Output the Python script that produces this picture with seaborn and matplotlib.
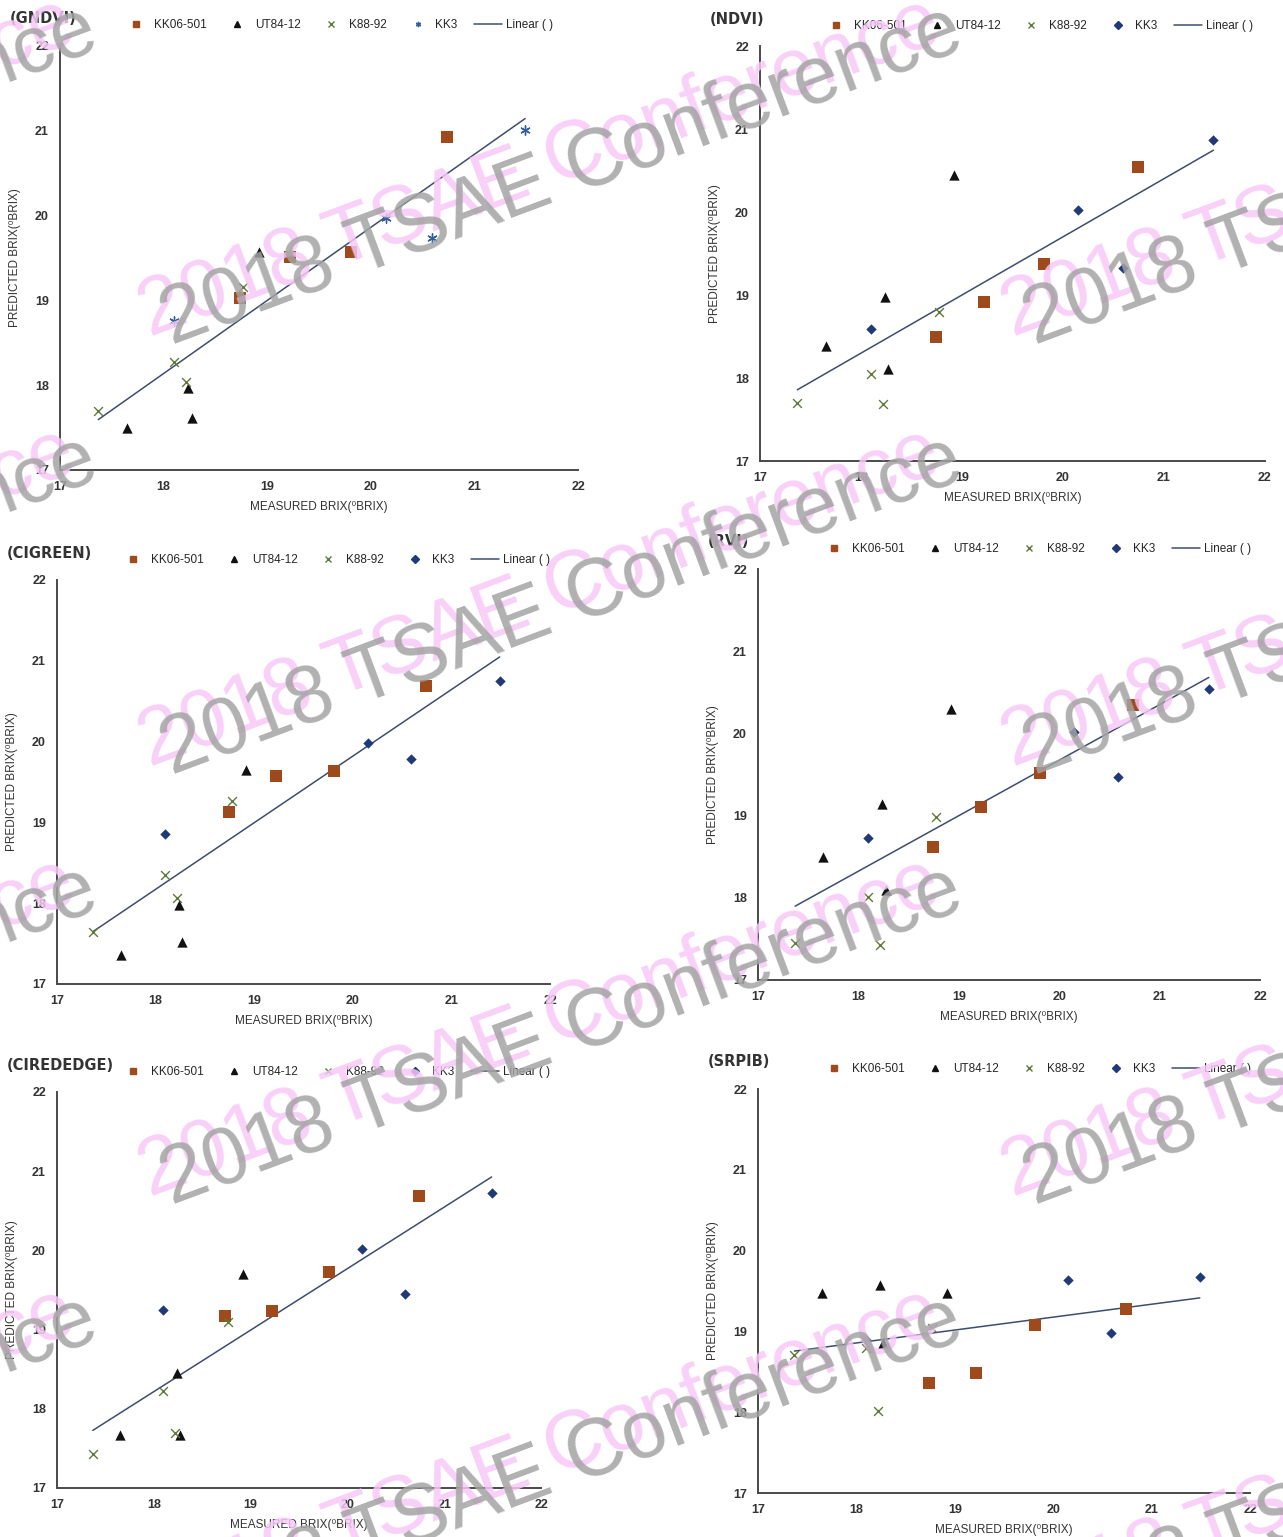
import matplotlib

matplotlib.use("Agg")
import matplotlib.pyplot as plt
import matplotlib.transforms as mtransforms
import pandas as pd
import seaborn as sns
from matplotlib.lines import Line2D


# measured brix is the same for every index panel
VARIETIES = ["KK06-501", "UT84-12", "K88-92", "KK3"]
MEASURED_KK06 = [18.74, 19.22, 19.81, 20.74]
MEASURED_UT84 = [17.65, 18.24, 18.27, 18.92]
MEASURED_K88 = [17.37, 18.10, 18.22, 18.77]
MEASURED_KK3 = [18.10, 20.15, 20.59, 21.49]

PANELS = ["(GNDVI)", "(NDVI)", "(CIGREEN)", "(RVI)", "(CIREDEDGE)", "(SRPIB)"]

# predicted brix, per panel, per variety
GNDVI_KK06 = [19.02, 19.51, 19.57, 20.92]
GNDVI_UT84 = [17.49, 17.96, 17.61, 19.57]
GNDVI_K88 = [17.70, 18.27, 18.03, 19.15]
GNDVI_KK3 = [18.75, 19.96, 19.73, 21.00]

NDVI_KK06 = [18.49, 18.92, 19.37, 20.54]
NDVI_UT84 = [18.39, 18.97, 18.11, 20.44]
NDVI_K88 = [17.70, 18.05, 17.69, 18.80]
NDVI_KK3 = [18.59, 20.02, 19.32, 20.87]

CIGREEN_KK06 = [19.13, 19.58, 19.64, 20.69]
CIGREEN_UT84 = [17.36, 17.98, 17.52, 19.65]
CIGREEN_K88 = [17.64, 18.35, 18.07, 19.26]
CIGREEN_KK3 = [18.86, 19.98, 19.79, 20.75]

RVI_KK06 = [18.62, 19.10, 19.52, 20.35]
RVI_UT84 = [18.50, 19.14, 18.09, 20.30]
RVI_K88 = [17.45, 18.01, 17.42, 18.98]
RVI_KK3 = [18.73, 20.02, 19.47, 20.54]

CIREDEDGE_KK06 = [19.17, 19.23, 19.73, 20.69]
CIREDEDGE_UT84 = [17.67, 18.45, 17.67, 19.70]
CIREDEDGE_K88 = [17.43, 18.22, 17.69, 19.10]
CIREDEDGE_KK3 = [19.25, 20.02, 19.45, 20.72]

SRPIB_KK06 = [18.36, 18.49, 19.08, 19.28]
SRPIB_UT84 = [19.48, 19.57, 18.86, 19.47]
SRPIB_K88 = [18.71, 18.79, 18.02, 19.04]
SRPIB_KK3 = [18.89, 19.64, 18.98, 19.67]

TICKS = [17, 18, 19, 20, 21, 22]
WATERMARK = "2018 TSAE Conference"

W, H = 1283, 1537

# axes rects in pixels: left, top, right, bottom
AXES_PX = [
    (60, 45, 578, 470),
    (760, 46, 1265, 461),
    (57, 580, 550, 984),
    (758, 569, 1260, 980),
    (57, 1092, 541, 1488),
    (758, 1089, 1250, 1493),
]

COLORS = {"KK06-501": "#9E4A1C", "UT84-12": "#111111", "K88-92": "#5E7A3A", "KK3": "#1F3A78"}
MARKERS = {"KK06-501": "s", "UT84-12": "^", "K88-92": "x", "KK3": "D"}
SIZES = {"KK06-501": 70, "UT84-12": 55, "K88-92": 40, "KK3": 28}
LEG_SIZES = {"KK06-501": 5, "UT84-12": 5, "K88-92": 5, "KK3": 3.8}
LINE_COLOR = "#3E4D6E"


def build_frame(kk06, ut84, k88, kk3):
    measured = [MEASURED_KK06, MEASURED_UT84, MEASURED_K88, MEASURED_KK3]
    predicted = [kk06, ut84, k88, kk3]
    rows = []
    for name, xs, ys in zip(VARIETIES, measured, predicted):
        for x, y in zip(xs, ys):
            rows.append({"variety": name, "measured": x, "predicted": y})
    return pd.DataFrame(rows)


frames = [
    build_frame(GNDVI_KK06, GNDVI_UT84, GNDVI_K88, GNDVI_KK3),
    build_frame(NDVI_KK06, NDVI_UT84, NDVI_K88, NDVI_KK3),
    build_frame(CIGREEN_KK06, CIGREEN_UT84, CIGREEN_K88, CIGREEN_KK3),
    build_frame(RVI_KK06, RVI_UT84, RVI_K88, RVI_KK3),
    build_frame(CIREDEDGE_KK06, CIREDEDGE_UT84, CIREDEDGE_K88, CIREDEDGE_KK3),
    build_frame(SRPIB_KK06, SRPIB_UT84, SRPIB_K88, SRPIB_KK3),
]

sns.set_theme(style="white")
plt.rcParams["font.family"] = ["Liberation Sans", "DejaVu Sans"]

fig = plt.figure(figsize=(W / 100, H / 100), dpi=100)

for i, (df, title, (l, t, r, b)) in enumerate(zip(frames, PANELS, AXES_PX)):
    ax = fig.add_axes([l / W, 1 - b / H, (r - l) / W, (b - t) / H])

    for name in VARIETIES:
        sub = df[df["variety"] == name]
        marker = MARKERS[name]
        size = SIZES[name]
        color = COLORS[name]
        if name == "KK3" and i == 0:
            marker, size, color = (6, 2, 0), 45, "#2F5F9E"
        kws = {"linewidth": 1.0} if marker in ("x", (6, 2, 0)) else {"linewidth": 0}
        sns.scatterplot(data=sub, x="measured", y="predicted", marker=marker, s=size,
                        color=color, ax=ax, legend=False, zorder=3, **kws)

    sns.regplot(data=df, x="measured", y="predicted", scatter=False, ci=None, ax=ax,
                line_kws={"color": LINE_COLOR, "linewidth": 1.1, "zorder": 2})

    ax.set_xlim(17, 22)
    ax.set_ylim(17, 22)
    ax.set_xticks(TICKS)
    ax.set_yticks(TICKS)
    ax.tick_params(length=0, labelsize=9, colors="#333333", pad=8)
    for lab in ax.get_xticklabels() + ax.get_yticklabels():
        lab.set_fontweight("bold")
    ax.set_xlabel("MEASURED BRIX(\u2070BRIX)", fontsize=8.5, color="#333333", labelpad=6)
    ax.set_ylabel("PREDICTED BRIX(\u2070BRIX)", fontsize=8.5, color="#333333", labelpad=10)
    sns.despine(ax=ax)
    for side in ("left", "bottom"):
        ax.spines[side].set_color("#4a4a4a")
        ax.spines[side].set_linewidth(1.4)

    title_tr = mtransforms.offset_copy(ax.transAxes, fig=fig, x=-50, y=27, units="dots")
    ax.text(0, 1, title, transform=title_tr, fontsize=10.5, fontweight="bold",
            color="#333333", ha="left", va="center", family="DejaVu Sans")

    handles = []
    for name in VARIETIES:
        marker = MARKERS[name]
        color = COLORS[name]
        if name == "KK3" and i == 0:
            marker, color = (6, 2, 0), "#2F5F9E"
        handles.append(Line2D([], [], linestyle="none", marker=marker, color=color,
                              markersize=LEG_SIZES[name], markeredgewidth=1.0, label=name))
    handles.append(Line2D([], [], color=LINE_COLOR, linewidth=1.1, label="Linear ( )"))
    leg_tr = mtransforms.offset_copy(ax.transAxes, fig=fig, x=62, y=20, units="dots")
    ax.legend(handles=handles, loc="center left", bbox_to_anchor=(0, 1), bbox_transform=leg_tr,
              ncol=5, frameon=False, fontsize=8.5, handlelength=2.4, handletextpad=0.3,
              columnspacing=1.4, borderpad=0, borderaxespad=0)

# watermark tiles
for row_y in (345, 775, 1205, 1635):
    for col_x in (172 - 865, 172, 1035):
        fig.text((col_x - 22) / W, 1 - (row_y - 8) / H, WATERMARK, rotation=20.5,
                 rotation_mode="anchor", ha="left", va="baseline", fontsize=58,
                 color="#F7C8F7", alpha=0.85, family="Liberation Sans", zorder=10)
        fig.text(col_x / W, 1 - row_y / H, WATERMARK, rotation=20.5,
                 rotation_mode="anchor", ha="left", va="baseline", fontsize=58,
                 color="#A3A3A3", alpha=0.85, family="Liberation Sans", zorder=11)

fig.savefig("out.png", dpi=100)
